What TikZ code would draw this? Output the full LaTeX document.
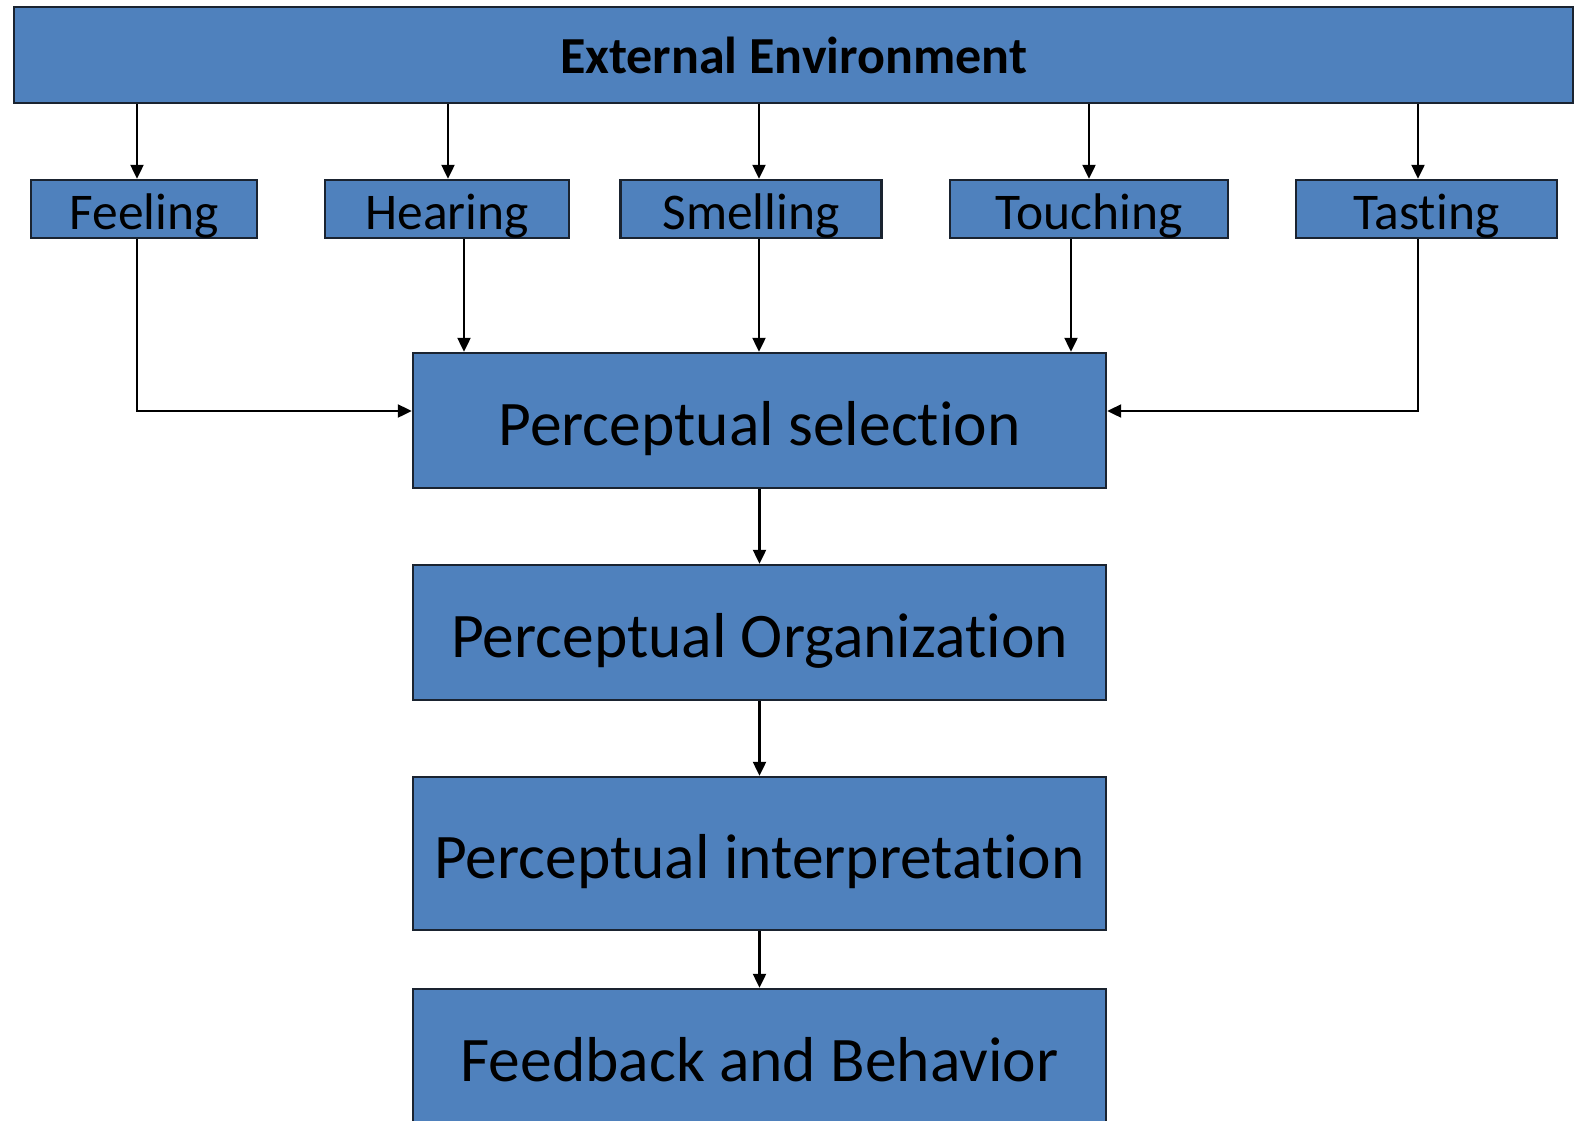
\documentclass[tikz,border=0pt]{standalone}
\usepackage{fontspec}
\setmainfont{Carlito}[Ligatures={NoCommon}]
\usetikzlibrary{arrows.meta}
\definecolor{boxblue}{HTML}{4F81BD}
\definecolor{boxedge}{HTML}{1A2330}
\begin{document}
\begin{tikzpicture}[x=1pt,y=-1pt,
  box/.style={draw=boxedge,line width=2.4pt,fill=boxblue,inner sep=0pt,text=black},
  sense/.style={box,minimum height=58pt,text height=42pt,text depth=1pt,font=\fontsize{51.5}{56}\selectfont},
  stage/.style={box,minimum width=693pt,text height=50pt,text depth=1pt,font=\fontsize{63.5}{70}\selectfont},
  arr/.style={line width=2.2pt,draw=black,-{Triangle[length=14pt,width=13pt]}}
]
\useasboundingbox (0,0) rectangle (1579,1120);
\fill[white] (0,0) rectangle (1579,1120);
\begin{scope}
\clip (0,0) rectangle (1579,1120);
\node[box,minimum width=1559pt,minimum height=96pt,font=\bfseries\fontsize{52}{56}\selectfont] (env) at (793.5,55) {External Environment};
\node[sense,minimum width=226pt] (feel) at (144,209) {Feeling};
\node[sense,minimum width=244pt] (hear) at (447,209) {Hearing};
\node[sense,minimum width=261pt] (smell) at (751,209) {Smelling};
\node[sense,minimum width=278pt] (touch) at (1089,209) {Touching};
\node[sense,minimum width=261pt] (taste) at (1426.5,209) {Tasting};
\node[stage,minimum height=135pt] (sel) at (759.5,420.5) {Perceptual selection};
\node[stage,minimum height=135pt] (org) at (759.5,632.5) {Perceptual Organization};
\node[stage,minimum height=153pt] (int) at (759.5,853.5) {Perceptual interpretation};
\node[stage,minimum height=136pt] (fb) at (759.5,1057) {Feedback and Behavior};

\draw[arr] (env.south -| 137,0) -- (feel.north -| 137,0);
\draw[arr] (env.south -| 448,0) -- (hear.north -| 448,0);
\draw[arr] (env.south -| 759,0) -- (smell.north -| 759,0);
\draw[arr] (env.south -| 1089,0) -- (touch.north -| 1089,0);
\draw[arr] (env.south -| 1418,0) -- (taste.north -| 1418,0);

\draw[arr] (hear.south -| 464,0) -- (sel.north -| 464,0);
\draw[arr] (smell.south -| 759,0) -- (sel.north -| 759,0);
\draw[arr] (touch.south -| 1071,0) -- (sel.north -| 1071,0);
\draw[arr] (feel.south -| 137,0) |- (sel.west |- 0,411);
\draw[arr] (taste.south -| 1418,0) |- (sel.east |- 0,411);

\draw[arr] (sel.south) -- (org.north);
\draw[arr] (org.south) -- (int.north);
\draw[arr] (int.south) -- (fb.north);
\end{scope}
\end{tikzpicture}
\end{document}
